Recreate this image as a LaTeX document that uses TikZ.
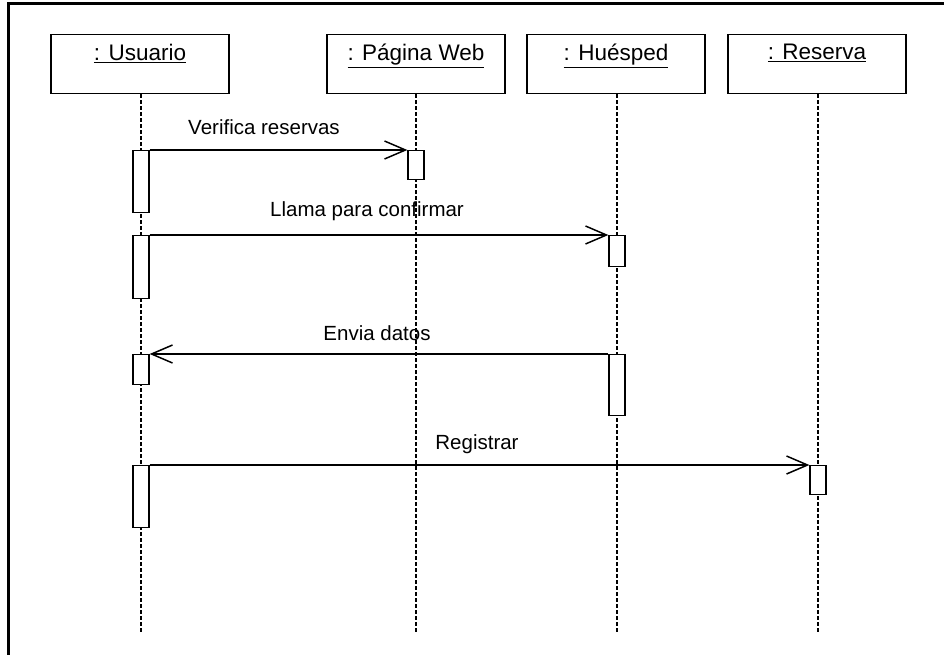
\documentclass[tikz,border=0pt]{standalone}
\usepackage{fontspec}
\setmainfont{Liberation Sans}
\usetikzlibrary{arrows.meta}
\begin{document}
\begin{tikzpicture}[x=1pt,y=-1pt,
  objbox/.style={draw, line width=1.4pt, minimum width=178pt, minimum height=59pt, inner sep=0pt, anchor=north},
  objtext/.style={anchor=north, inner sep=0pt, font=\fontsize{22.5}{26}\selectfont},
  lifeline/.style={line width=1.1pt, dash pattern=on 4pt off 2pt},
  actbar/.style={draw, line width=1.2pt, fill=white, minimum width=16pt, inner sep=0pt, anchor=north},
  msg/.style={line width=1.2pt, -{Straight Barb[length=21pt,width=18pt,line width=1.5pt]}},
  msgtext/.style={inner sep=0pt, font=\fontsize{20.5}{24}\selectfont}]
\useasboundingbox (0,0) rectangle (944,655);
\fill[white] (0,0) rectangle (944,655);
% frame
\draw[line width=3pt] (8,656) -- (8,4) -- (945,4);
% objects
\node[objbox] (u) at (140,34) {};
\node[objbox] (p) at (416,34) {};
\node[objbox] (h) at (616,34) {};
\node[objbox] (r) at (817,34) {};
\node[objtext] (ut) at ([yshift=-10pt]u.north) {\underline{: Usuario}};
\node[objtext] (pt) at ([yshift=-10pt]p.north) {\underline{: Página Web}};
\node[objtext] (ht) at ([yshift=-10pt]h.north) {\underline{: Huésped}};
\node[objtext] (rt) at ([yshift=-10pt]r.north) {\underline{: Reserva}};
% lifeline ends
\coordinate (ue) at (141,632);
\coordinate (pe) at (416,632);
\coordinate (he) at (617,632);
\coordinate (re) at (818,632);
\draw[lifeline] (u.south -| ue) -- (ue);
\draw[lifeline] (p.south -| pe) -- (pe);
\draw[lifeline] (h.south -| he) -- (he);
\draw[lifeline] (r.south -| re) -- (re);
% activation bars
\node[actbar, minimum height=62pt] (a1) at (141,150) {};
\node[actbar, minimum height=29pt] (p1) at (416,150) {};
\node[actbar, minimum height=63pt] (a2) at (141,235) {};
\node[actbar, minimum height=31pt] (h1) at (617,235) {};
\node[actbar, minimum height=61pt] (h2) at (617,354) {};
\node[actbar, minimum height=30pt] (a3) at (141,354) {};
\node[actbar, minimum height=62pt] (a4) at (141,465) {};
\node[actbar, minimum height=29pt] (r1) at (818,465) {};
% messages
\draw[msg] (a1.north east) -- (p1.north west);
\draw[msg] (a2.north east) -- (h1.north west);
\draw[msg] (h2.north west) -- (a3.north east);
\draw[msg] (a4.north east) -- (r1.north west);
\node[msgtext] (m1) at (264,127) {Verifica reservas};
\node[msgtext] (m2) at (367,211) {Llama para confirmar};
\node[msgtext] (m3) at (377,333) {Envia datos};
\node[msgtext] (m4) at (477,444) {Registrar};
\end{tikzpicture}
\end{document}
